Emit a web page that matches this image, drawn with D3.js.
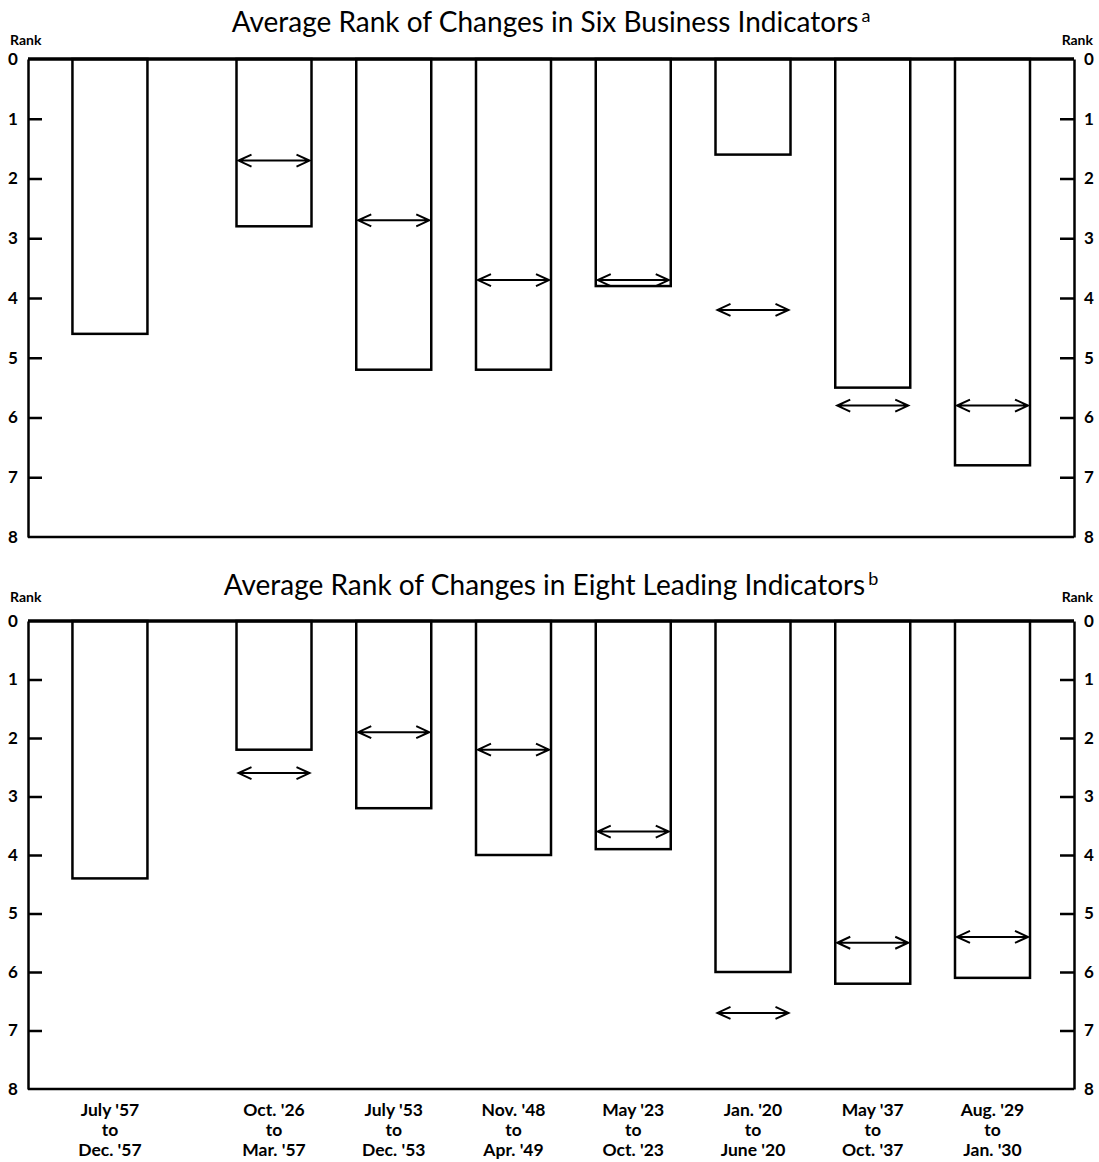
<!DOCTYPE html>
<html>
<head>
<meta charset="utf-8">
<script src="https://cdn.jsdelivr.net/npm/d3@7"></script>
<style>
  body { margin: 0; background: #fff; }
  svg { display: block; font-family: Lato, "Open Sans", sans-serif; }
</style>
</head>
<body>
<svg id="chart" width="1099" height="1162"></svg>
<script>
// Periods (bar categories), three-line labels
var periods = [
    ["July '57", "to", "Dec. '57"],
    ["Oct. '26", "to", "Mar. '57"],
    ["July '53", "to", "Dec. '53"],
    ["Nov. '48", "to", "Apr. '49"],
    ["May '23", "to", "Oct. '23"],
    ["Jan. '20", "to", "June '20"],
    ["May '37", "to", "Oct. '37"],
    ["Aug. '29", "to", "Jan. '30"]
];

// Six business indicators: bar depth and arrow level
var sixRank  = [4.6, 2.8, 5.2, 5.2, 3.8, 1.6, 5.5, 6.8];
var sixArrow = [null, 1.7, 2.7, 3.7, 3.7, 4.2, 5.8, 5.8];

// Eight leading indicators
var eightRank  = [4.4, 2.2, 3.2, 4.0, 3.9, 6.0, 6.2, 6.1];
var eightArrow = [null, 2.6, 1.9, 2.2, 3.6, 6.7, 5.5, 5.4];

var rankTicks = [0, 1, 2, 3, 4, 5, 6, 7, 8];

const svg = d3.select("#chart");
const left = 28, right = 1074;
const barW = 75;

// first bar sits a bit further from the rest
var slotOf = function(i) { return i === 0 ? -0.37 : i; };
var x = d3.scaleLinear().domain([1, 7]).range([274, 992.5]);

function drawPanel(cfg) {
    var g = svg.append("g");
    var y = d3.scaleLinear().domain([0, 8]).range([cfg.top, cfg.bottom]);

    // title
    var t = g.append("text")
        .attr("x", 551)
        .attr("y", cfg.titleY)
        .attr("text-anchor", "middle")
        .style("font-size", "28px")
        .style("font-weight", 400)
        .style("-webkit-text-stroke", "0.9px #000")
        .text(cfg.title);
    t.append("tspan")
        .attr("dx", 3)
        .attr("dy", -10)
        .style("font-size", "18px")
        .text(cfg.note);

    // Rank labels
    g.append("text").attr("x", 10).attr("y", cfg.rankY)
        .style("font-size", "14px").style("font-weight", 700).text("Rank");
    g.append("text").attr("x", 1093).attr("y", cfg.rankY)
        .attr("text-anchor", "end")
        .style("font-size", "14px").style("font-weight", 700).text("Rank");

    // bars
    g.selectAll(".bar")
        .data(cfg.ranks)
        .join("rect")
        .attr("class", "bar")
        .attr("x", function(d, i) { return x(slotOf(i)) - barW / 2; })
        .attr("y", y(0))
        .attr("width", barW)
        .attr("height", function(d) { return y(d) - y(0); })
        .attr("fill", "none")
        .attr("stroke", "#000")
        .attr("stroke-width", 2.5);

    // double-headed arrows
    var arrows = cfg.arrows
        .map(function(d, i) { return {v: d, i: i}; })
        .filter(function(d) { return d.v != null; });

    var ag = g.selectAll(".arrow")
        .data(arrows)
        .join("g")
        .attr("class", "arrow")
        .attr("transform", function(d) {
            return `translate(${x(slotOf(d.i))}, ${y(d.v)})`;
        });
    var half = barW / 2 - 2;
    ag.append("path")
        .attr("d", `M${-half},0H${half}M${-half + 13},-6L${-half},0L${-half + 13},6M${half - 13},-6L${half},0L${half - 13},6`)
        .attr("fill", "none")
        .attr("stroke", "#000")
        .attr("stroke-width", 2);

    // frame
    g.append("line").attr("x1", left).attr("x2", right)
        .attr("y1", y(0)).attr("y2", y(0))
        .attr("stroke", "#000").attr("stroke-width", 3.5);
    g.append("line").attr("x1", left).attr("x2", right)
        .attr("y1", y(8)).attr("y2", y(8))
        .attr("stroke", "#000").attr("stroke-width", 2.5);

    var yl = d3.axisRight(y).tickValues(rankTicks).tickSize(14).tickSizeOuter(0).tickFormat(d3.format("d"));
    var yr = d3.axisLeft(y).tickValues(rankTicks).tickSize(14).tickSizeOuter(0).tickFormat(d3.format("d"));

    [[yl, left, -1], [yr, right, 1]].forEach(function(a) {
        var ax = g.append("g")
            .attr("transform", `translate(${a[1]},0)`)
            .call(a[0]);
        ax.select(".domain").attr("stroke-width", 2.5);
        ax.selectAll(".tick line").attr("stroke-width", 2.5)
            .filter(function(d) { return d === 0 || d === 8; }).remove();
        ax.selectAll(".tick text")
            .attr("x", a[2] * 15)
            .attr("text-anchor", "middle")
            .style("font-size", "17px")
            .style("font-weight", 700)
            .style("font-family", "Lato, sans-serif");
    });

    return y;
}

drawPanel({
    top: 59, bottom: 537, titleY: 32, rankY: 45,
    title: "Average Rank of Changes in Six Business Indicators", note: "a",
    ranks: sixRank, arrows: sixArrow
});

drawPanel({
    top: 621, bottom: 1089, titleY: 595, rankY: 602,
    title: "Average Rank of Changes in Eight Leading Indicators", note: "b",
    ranks: eightRank, arrows: eightArrow
});

// period labels under the bottom panel
var lab = svg.append("g").selectAll("text")
    .data(periods)
    .join("text")
    .attr("x", function(d, i) { return x(slotOf(i)); })
    .attr("y", 1116)
    .attr("text-anchor", "middle")
    .style("font-size", "17.5px")
    .style("font-weight", 700);
lab.selectAll("tspan")
    .data(function(d) { return d; })
    .join("tspan")
    .attr("x", function() { return d3.select(this.parentNode).attr("x"); })
    .attr("dy", function(d, j) { return j === 0 ? 0 : 20; })
    .text(function(d) { return d; });
</script>
</body>
</html>
